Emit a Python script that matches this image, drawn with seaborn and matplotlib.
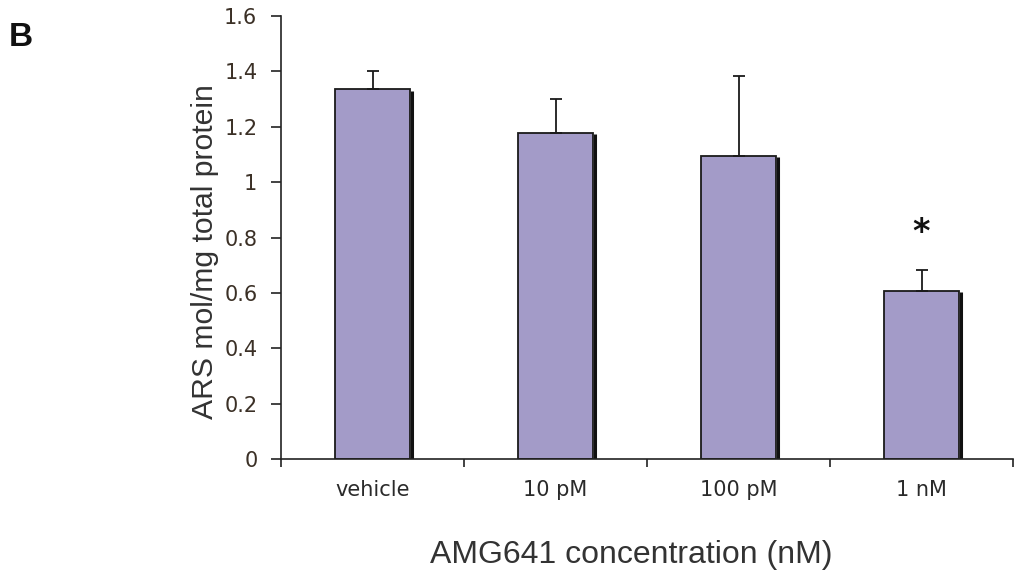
import matplotlib
matplotlib.use("Agg")
import matplotlib.pyplot as plt
import seaborn as sns
import pandas as pd
import numpy as np

categories = ["vehicle", "10 pM", "100 pM", "1 nM"]
values = [1.336, 1.179, 1.096, 0.609]
errors = [0.065, 0.122, 0.289, 0.074]
yticks = [0, 0.2, 0.4, 0.6, 0.8, 1.0, 1.2, 1.4, 1.6]
ytick_labels = ["0", "0.2", "0.4", "0.6", "0.8", "1", "1.2", "1.4", "1.6"]

sns.set_theme(style="white")
plt.rcParams['font.family'] = ['DejaVu Sans']

df = pd.DataFrame({"cat": categories, "val": values})

fig = plt.figure(figsize=(10.17, 5.76), dpi=100)
ax = fig.add_axes([281/1017, 1 - 459.3/576, (1013-281)/1017, (459.3-16)/576])

bar_color = "#A39BC8"
sns.barplot(data=df, x="cat", y="val", color=bar_color, width=0.41,
            saturation=1, edgecolor="#1a1a1a", linewidth=1.3, ax=ax, errorbar=None)

# shadow on right edge of bars
for p in ax.patches:
    x0 = p.get_x() + p.get_width()
    ax.plot([x0 + 0.012, x0 + 0.012], [0, p.get_height() - 0.005], color="#111111",
            lw=2.2, solid_capstyle="butt", zorder=p.get_zorder() - 0.1)

xs = np.arange(len(categories))
ax.errorbar(xs, values, yerr=[np.zeros(len(errors)), errors], fmt="none",
            ecolor="#1a1a1a", elinewidth=1.3, capsize=4, capthick=1.3, zorder=5)

# significance marker
ax.text(3, 0.82, "*", ha="center", va="center", fontsize=24, fontweight="bold", color="#111111")

ax.set_xlim(-0.5, 3.5)
ax.set_ylim(0, 1.6)
ax.set_yticks(yticks)
ax.set_yticklabels(ytick_labels)
ax.set_xticks(xs)
ax.set_xticklabels(categories)
ax.set_xticks([-0.5, 0.5, 1.5, 2.5, 3.5], minor=True)
ax.tick_params(axis="x", which="major", length=0, pad=15, labelsize=15, labelcolor="#2a2a2a")
ax.tick_params(axis="x", which="minor", length=6, width=1.2, color="#222222", direction="out", bottom=True)
ax.tick_params(axis="y", length=7, width=1.2, color="#222222", direction="out", left=True,
               labelsize=15, labelcolor="#3b3026", pad=10)

for s in ["top", "right"]:
    ax.spines[s].set_visible(False)
for s in ["left", "bottom"]:
    ax.spines[s].set_color("#222222")
    ax.spines[s].set_linewidth(1.2)

ax.set_xlabel("")
ax.set_ylabel("")
fig.text(205/1017, 1 - 252/576, "ARS mol/mg total protein", ha="center", va="center", rotation=90,
         fontsize=21.7, family="Liberation Sans", color="#333333")
fig.text(631/1017, 1 - 555/576, "AMG641 concentration (nM)", ha="center", va="center",
         fontsize=23, family="Liberation Sans", color="#333333")
fig.text(21/1017, 1 - 37/576, "B", ha="center", va="center", fontsize=24, fontweight="bold",
         family="Liberation Sans", color="#111111")

fig.savefig("out.png", dpi=100)
